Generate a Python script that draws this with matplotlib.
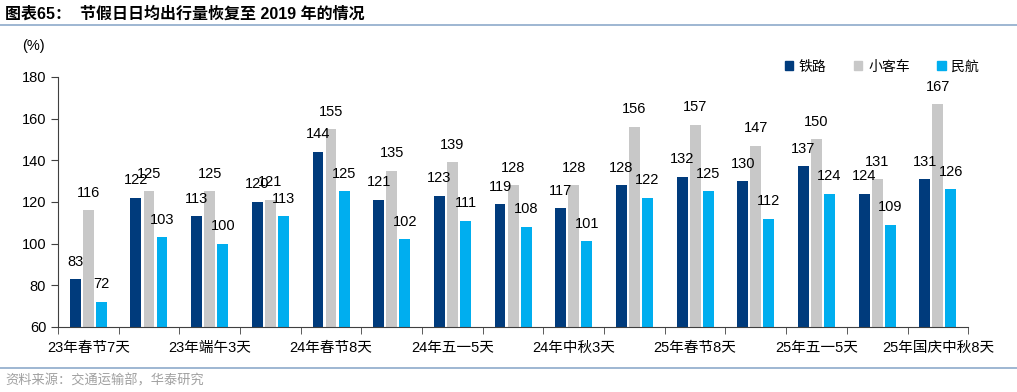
import numpy as np
import matplotlib.pyplot as plt
from matplotlib.lines import Line2D
from matplotlib.patches import Rectangle

plt.rcParams['font.family'] = ['Liberation Sans', 'Noto Sans CJK SC', 'DejaVu Sans']

# data
categories = ['23年春节7天', '23年五一5天', '23年端午3天', '23年中秋国庆8天',
              '24年春节8天', '24年清明3天', '24年五一5天', '24年端午3天',
              '24年中秋3天', '24年国庆7天', '25年春节8天', '25年清明3天',
              '25年五一5天', '25年端午3天', '25年国庆中秋8天']
rail = [83, 122, 113, 120, 144, 121, 123, 119, 117, 128, 132, 130, 137, 124, 131]
car = [116, 125, 125, 121, 155, 135, 139, 128, 128, 156, 157, 147, 150, 131, 167]
air = [72, 103, 100, 113, 125, 102, 111, 108, 101, 122, 125, 112, 124, 109, 126]
series_names = ['铁路', '小客车', '民航']
colors = ['#003B7C', '#C8C8C8', '#00AEEF']

fig = plt.figure(figsize=(10.17, 3.92), dpi=100)
ax = fig.add_axes([0.057, 0.166, 0.895, 0.638])

x = np.arange(len(categories))
w = 0.18
step = 0.215
for i, (vals, c) in enumerate(zip([rail, car, air], colors)):
    xs = x + (i - 1) * step
    ax.bar(xs, vals, width=w, color=c, zorder=2)
    for xi, v in zip(xs, vals):
        ax.text(xi, v + 5, str(v), ha='center', va='bottom', fontsize=10.5)

ax.set_ylim(60, 180)
ax.set_yticks(range(60, 181, 20))
ax.set_xlim(-0.5, len(categories) - 0.5)
ax.set_xticks(x)
ax.set_xticklabels([c if i % 2 == 0 else '' for i, c in enumerate(categories)], fontsize=10.5)
ax.set_xticks(np.arange(-0.5, len(categories), 1), minor=True)
ax.tick_params(axis='x', which='major', length=0, pad=10)
ax.tick_params(axis='x', which='minor', length=5, direction='out', color='#404040')
ax.tick_params(axis='y', length=5, labelsize=10.5, color='#404040')
for s in ['top', 'right']:
    ax.spines[s].set_visible(False)
for s in ['left', 'bottom']:
    ax.spines[s].set_color('#404040')

fig.text(0.022, 0.872, '(%)', fontsize=10.5)

# legend
handles = [Rectangle((0, 0), 1, 1, color=c) for c in colors]
leg = fig.legend(handles, series_names, loc='center right', bbox_to_anchor=(0.975, 0.83),
                 ncol=3, frameon=False, fontsize=10, handlelength=0.6, handleheight=0.6,
                 handletextpad=0.4, columnspacing=2.0,
                 prop={'family': ['Noto Sans CJK SC'], 'size': 10})

# title and source
fig.text(0.005, 0.965, '图表65：  节假日日均出行量恢复至 2019 年的情况', fontsize=11.5,
         fontweight='bold', va='center', family=['Liberation Sans', 'Noto Sans CJK SC'])
fig.add_artist(Line2D([0, 1], [0.935, 0.935], color='#8EAACB', lw=1.2))
fig.add_artist(Line2D([0, 1], [0.062, 0.062], color='#8EAACB', lw=1.2))
fig.text(0.005, 0.028, '资料来源：交通运输部，华泰研究', fontsize=9.5, color='#A0A0A0',
         va='center', family=['Noto Sans CJK SC'])

fig.savefig('out.png', dpi=100)
